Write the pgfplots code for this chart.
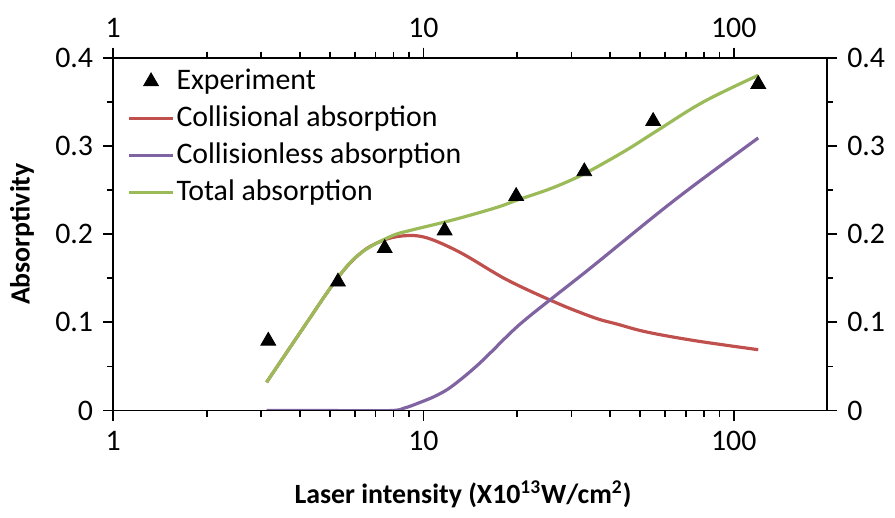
\documentclass[border=0pt]{standalone}
\usepackage{fontspec}
\setmainfont{Carlito}
\usepackage{pgfplots}
\pgfplotsset{compat=1.18}
\definecolor{cred}{RGB}{192,80,77}
\definecolor{cpurple}{RGB}{128,100,162}
\definecolor{cgreen}{RGB}{155,187,89}
\pgfplotsset{
  mytrileg/.style={legend image code/.code={\draw[mark repeat=1,mark phase=1,##1] plot coordinates {(11pt,0pt)};}},
  mylineleg/.style={legend image code/.code={\draw[##1] (0pt,0pt) -- (22pt,0pt);}},
}
\begin{document}
\fontsize{15}{18}\selectfont
\begin{tikzpicture}
\begin{axis}[
  scale only axis, width=359pt, height=177.5pt,
  xmode=log, xmin=1, xmax=200, ymin=0, ymax=0.4,
  xtick={1,10,100}, xticklabels={1,10,100},
  minor xtick={2,3,4,5,6,7,8,9,20,30,40,50,60,70,80,90},
  ytick={0,0.1,0.2,0.3,0.4},
  yticklabels={0,0.1,0.2,0.3,0.4},
  minor ytick={0.05,0.15,0.25,0.35},
  tick align=outside,
  major tick length=5pt, minor tick length=3pt,
  every tick/.style={black, line width=0.9pt},
  axis line style={black, line width=0.9pt},
  tick label style={font=\fontsize{15}{18}\selectfont},
  xtick pos=both, ytick pos=both,
  name=ax,
  xticklabel pos=lower, yticklabel pos=left,
  xlabel={\textbf{Laser intensity (X10\textsuperscript{13}W/cm\textsuperscript{2})}},
  ylabel={\textbf{Absorptivity}},
  xlabel style={font=\fontsize{14}{17}\selectfont, at={(axis description cs:0.49,0)}, anchor=center, yshift=-42pt},
  ylabel style={font=\fontsize{14}{17}\selectfont, at={(axis description cs:-0.128,0.5)}, anchor=center},
  legend style={draw=none, fill=none, at={(axis description cs:0,1)}, anchor=north west,
    xshift=6pt, yshift=-3.5pt,
    font=\fontsize{15}{18}\selectfont, row sep=4pt, inner sep=1pt,
    nodes={inner xsep=1pt, inner ysep=1pt}},
  legend cell align=left,
]
\addlegendimage{only marks, mark=triangle*, mark size=4.3pt, black, mytrileg}
\addlegendentry{Experiment}
\addplot[cred, line width=1.6pt, smooth, tension=0.6, mylineleg] coordinates {
(3.12,0.032) (4.03,0.090) (5.28,0.150) (6.25,0.178) (7.3,0.192) (8.58,0.198)
(10.2,0.196) (13.0,0.180) (16.6,0.158) (18.4,0.149) (21.3,0.138) (25.7,0.125)
(30,0.115) (36.4,0.104) (42.1,0.098) (52.5,0.089) (75.7,0.079) (120,0.069)};
\addlegendentry{Collisional absorption}
\addplot[cpurple, line width=1.6pt, smooth, tension=0.6, mylineleg] coordinates {
(3.12,0) (5,0) (7.8,0) (8.7,0.003) (9.71,0.009) (11,0.017) (12.4,0.028) (15.1,0.053)
(19.2,0.089) (21.8,0.106) (25.7,0.126) (31.4,0.150) (36.4,0.168) (65.3,0.240) (120,0.309)};
\addlegendentry{Collisionless absorption}
\addplot[cgreen, line width=1.6pt, smooth, tension=0.6, mylineleg] coordinates {
(3.12,0.032) (4.03,0.090) (5.28,0.150) (6.25,0.178) (7.79,0.197) (9.02,0.204)
(11.5,0.213) (14,0.221) (17.5,0.231) (20.2,0.239) (25,0.250) (29.8,0.261) (34.5,0.272)
(45,0.295) (56.5,0.317) (80,0.350) (120,0.380)};
\addlegendentry{Total absorption}
\addplot[only marks, mark=triangle*, mark size=4.3pt, black, forget plot] coordinates {
(3.16,0.079) (5.3,0.146) (7.5,0.184) (11.7,0.204) (19.9,0.243) (33,0.271) (55,0.328) (120,0.370)};
\end{axis}
\begin{axis}[
  scale only axis, width=359pt, height=177.5pt,
  xmode=log, xmin=1, xmax=200, ymin=0, ymax=0.4,
  xtick={1,10,100}, xticklabels={1,10,100},
  minor xtick={2,3,4,5,6,7,8,9,20,30,40,50,60,70,80,90},
  ytick={0,0.1,0.2,0.3,0.4},
  yticklabels={0,0.1,0.2,0.3,0.4},
  minor ytick={0.05,0.15,0.25,0.35},
  tick align=outside,
  major tick length=5pt, minor tick length=3pt,
  every tick/.style={black, line width=0.9pt},
  axis line style={black, line width=0.9pt},
  tick label style={font=\fontsize{15}{18}\selectfont},
  xtick pos=both, ytick pos=both,
  xticklabel pos=upper, yticklabel pos=right,
]
\addplot[draw=none] coordinates {(1,0.1)};
\end{axis}
\path (ax.south west) ++(-55pt,-50.5pt) coordinate (bl);
\path (ax.north east) ++(33.5pt,29pt) coordinate (tr);
\useasboundingbox (bl) rectangle (tr);
\end{tikzpicture}
\end{document}
